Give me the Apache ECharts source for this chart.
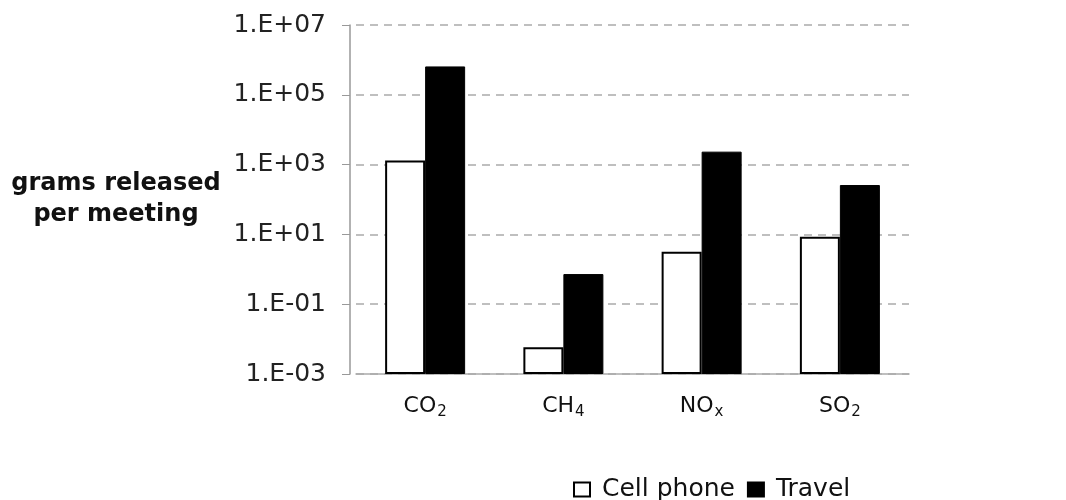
<!DOCTYPE html>
<html>
<head>
<meta charset="utf-8">
<script src="https://cdn.jsdelivr.net/npm/echarts@6/dist/echarts.min.js"></script>
<style>html,body{margin:0;padding:0;background:#fff}#c{width:1066px;height:500px}</style>
</head>
<body>
<div id="c"></div>
<script>
const categories = ['{n|CO}{s|2}', '{n|CH}{s|4}', '{n|NO}{s|x}', '{n|SO}{s|2}'];
const cellPhone = [1300, 0.0058, 3.2, 8.6];
const travel = [650000, 0.73, 2350, 260];
const yTicks = [1e-3, 1e-1, 1e1, 1e3, 1e5, 1e7];

function fmt(v) {
  const e = Math.round(Math.log10(v));
  return '1.E' + (e < 0 ? '-' : '+') + String(Math.abs(e)).padStart(2, '0');
}

const chart = echarts.init(document.getElementById('c'));
chart.setOption({
  animation: false,
  backgroundColor: '#fff',
  textStyle: { fontFamily: 'DejaVu Sans' },
  grid: { left: 356, right: 157, top: 25, bottom: 126 },
  legend: {
    left: 568, top: 472,
    itemWidth: 16, itemHeight: 14, itemGap: 12,
    icon: 'rect',
    textStyle: { fontFamily: 'DejaVu Sans', fontSize: 25, color: '#111', padding: [0, 0, 0, 7] },
    data: ['Cell phone', 'Travel']
  },
  xAxis: {
    type: 'category',
    data: categories,
    axisLine: { lineStyle: { color: '#aaa', width: 1.5 } },
    axisTick: { show: false },
    axisLabel: {
      margin: 20,
      rich: {
        n: { fontFamily: 'DejaVu Sans', fontSize: 22, color: '#111', lineHeight: 24 },
        s: { fontFamily: 'DejaVu Sans', fontSize: 15, color: '#111', lineHeight: 24, padding: [12, 0, 0, 1] }
      }
    }
  },
  yAxis: {
    type: 'log',
    logBase: 10,
    min: yTicks[0],
    max: yTicks[yTicks.length - 1],
    startValue: yTicks[0],
    interval: 2,
    offset: 6,
    name: 'grams released\nper meeting',
    nameLocation: 'middle',
    nameRotate: 0,
    nameGap: 234,
    nameTextStyle: { fontFamily: 'DejaVu Sans', fontWeight: 'bold', fontSize: 24, color: '#111', align: 'center', verticalAlign: 'middle', lineHeight: 31 },
    axisLine: { show: true, lineStyle: { color: '#999', width: 1.5 } },
    axisTick: { show: true, length: 8, lineStyle: { color: '#999' } },
    axisLabel: { formatter: fmt, fontFamily: 'DejaVu Sans', fontSize: 25, color: '#222', margin: 24 },
    splitLine: { show: true, lineStyle: { color: '#aaa', width: 1.5, type: [8, 6] } },
    minorTick: { show: false }
  },
  series: [
    {
      name: 'Cell phone', type: 'bar', data: cellPhone,
      barWidth: 40, barGap: '0%',
      itemStyle: { color: '#fff', borderColor: '#000', borderWidth: 2 }
    },
    {
      name: 'Travel', type: 'bar', data: travel,
      barWidth: 40,
      itemStyle: { color: '#000', borderColor: '#000', borderWidth: 1 }
    }
  ]
});
</script>
</body>
</html>
